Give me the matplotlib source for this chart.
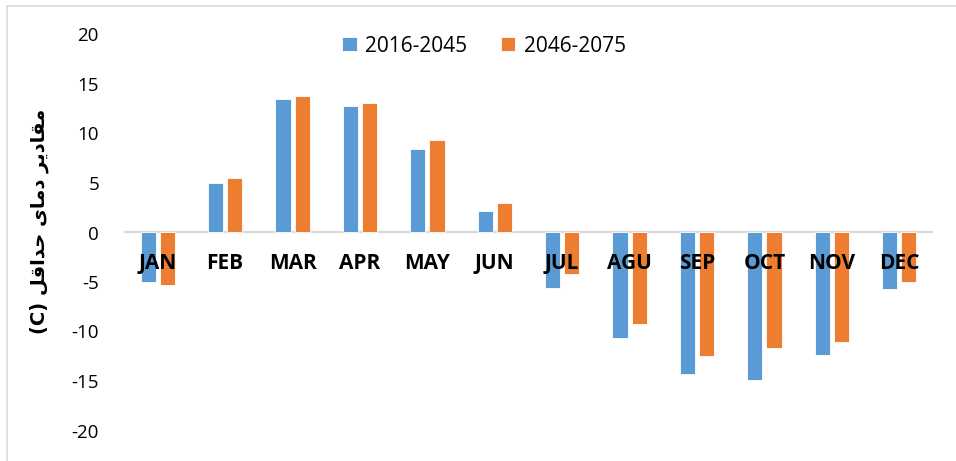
import matplotlib
matplotlib.use("Agg")
import matplotlib.pyplot as plt
from matplotlib.lines import Line2D
import numpy as np

months = ["JAN", "FEB", "MAR", "APR", "MAY", "JUN", "JUL", "AGU", "SEP", "OCT", "NOV", "DEC"]
series_names = ["2016-2045", "2046-2075"]
vals_2016_2045 = [-5.0, 5.0, 13.45, 12.8, 8.4, 2.2, -5.6, -10.7, -14.3, -14.9, -12.4, -5.7]
vals_2046_2075 = [-5.3, 5.5, 13.75, 13.05, 9.3, 3.0, -4.2, -9.2, -12.5, -11.7, -11.05, -5.0]
yticks = [-20, -15, -10, -5, 0, 5, 10, 15, 20]

# Persian label "مقادیر دمای حداقل (C)" in presentation forms, visual order
ylabel_text = "(C) " + "\uFEDE\uFED7\uFE8D\uFEAA\uFEA3" + " " + "\uFEEF\uFE8E\uFEE3\uFEA9" + " " + "\uFEAE\uFEF3\uFEA9\uFE8E\uFED8\uFEE3"

blue = "#5B9BD5"
orange = "#ED7D31"
grid_gray = "#D9D9D9"

plt.rcParams['font.family'] = ['Open Sans', 'DejaVu Sans']

W, H = 956, 461
fig = plt.figure(figsize=(W / 100, H / 100), dpi=100)
fig.patch.set_facecolor("white")

ax_w = 933 - 124
ax_h = 430.5 - 34.5
ax = fig.add_axes([124 / W, 1 - 430.5 / H, ax_w / W, ax_h / H])
x = np.arange(len(months))
bw = 0.225
off = 0.142
ax.bar(x - off, vals_2016_2045, bw, color=blue, edgecolor="white", linewidth=0.6, label=series_names[0], zorder=2)
ax.bar(x + off, vals_2046_2075, bw, color=orange, edgecolor="white", linewidth=0.6, label=series_names[1], zorder=2)

ax.set_xlim(-0.5, len(months) - 0.5)
ax.set_ylim(-20, 20)
ax.set_yticks(yticks)
ax.set_yticklabels([str(t) for t in yticks], fontsize=13.5)
ax.tick_params(axis='y', length=0, pad=18)
ax.set_xticks([])
for s in ax.spines.values():
    s.set_visible(False)
ax.axhline(0, color=grid_gray, linewidth=1.6, zorder=1)

for i, m in enumerate(months):
    ax.annotate(m, xy=(i, 0), xytext=(0, -22.5), textcoords="offset points",
                ha="center", va="center", fontsize=15, fontweight="bold", zorder=5)

ax.set_ylabel(ylabel_text, fontsize=14, fontweight="bold", family=["DejaVu Sans"])
ax.yaxis.set_label_coords(-75 / ax_w, (430.5 - 221) / ax_h)

leg = ax.legend(loc="center", bbox_to_anchor=((484 - 124) / ax_w, (430.5 - 46) / ax_h), ncol=2, frameon=False,
                fontsize=15, handlelength=0.7, handleheight=0.7, handletextpad=0.4,
                columnspacing=1.6, borderaxespad=0.0)

# chart border (top & left visible)
fig.add_artist(Line2D([7 / W, 1], [1 - 6 / H, 1 - 6 / H], color=grid_gray, linewidth=1.2, transform=fig.transFigure))
fig.add_artist(Line2D([7 / W, 7 / W], [0, 1 - 6 / H], color=grid_gray, linewidth=1.2, transform=fig.transFigure))

fig.savefig("out.png", dpi=100)
